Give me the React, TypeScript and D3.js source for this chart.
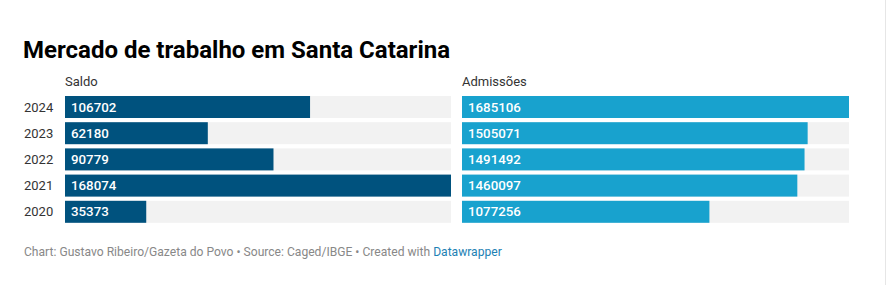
import React from "react";
import * as d3 from "d3";

const years = ["2024", "2023", "2022", "2021", "2020"];
const saldo = [106702, 62180, 90779, 168074, 35373];
const admissoes = [1685106, 1505071, 1491492, 1460097, 1077256];
const columnTitles = ["Saldo", "Admissões"];
const title = "Mercado de trabalho em Santa Catarina";

const W = 887;
const H = 285;
const FONT = "Roboto, 'Noto Sans', sans-serif";

export default function App() {
  const y = d3.scaleBand<string>().domain(years).range([96, 227]).paddingInner(0.16);
  const bh = 22;
  const rowY = (yr: string) => 96 + years.indexOf(yr) * 26.2;

  const panels = [
    { title: columnTitles[0], values: saldo, x0: 65, x1: 451, color: "#00527e" },
    { title: columnTitles[1], values: admissoes, x0: 462, x1: 849, color: "#18a2ce" },
  ];

  return (
    <svg
      width={W}
      height={H}
      style={{ position: "absolute", left: 0, top: 0, background: "#fff" }}
      fontFamily={FONT}
    >
      <rect x={0} y={0} width={W} height={H} fill="#fff" />
      <line x1={885.5} x2={885.5} y1={0} y2={H} stroke="#e6e6e6" strokeWidth={1} />
      <text x={23} y={57.5} fontSize={24} fontWeight={700} fill="#000">
        {title}
      </text>
      {years.map((yr) => (
        <text key={yr} x={24} y={rowY(yr) + bh / 2 + 4.5} fontSize={13} fill="#333">
          {yr}
        </text>
      ))}
      {panels.map((p) => {
        const max = d3.max(p.values) as number;
        const x = d3.scaleLinear().domain([0, max]).range([p.x0, p.x1]);
        return (
          <g key={p.title}>
            <text x={p.x0} y={86} fontSize={13} fill="#333">
              {p.title}
            </text>
            {years.map((yr, i) => {
              const top = rowY(yr);
              return (
                <g key={yr}>
                  <rect x={p.x0} y={top} width={p.x1 - p.x0} height={bh} fill="#f2f2f2" />
                  <rect x={p.x0} y={top} width={x(p.values[i]) - p.x0} height={bh} fill={p.color} />
                  <text
                    x={p.x0 + 6}
                    y={top + bh / 2 + 4.5}
                    fontSize={13.3}
                    fontWeight={500}
                    fill="#fff"
                  >
                    {p.values[i]}
                  </text>
                </g>
              );
            })}
          </g>
        );
      })}
      <text x={24} y={256} fontSize={12.1} fill="#888">
        Chart: Gustavo Ribeiro/Gazeta do Povo • Source: Caged/IBGE • Created with{" "}
        <tspan fill="#1d81b4">Datawrapper</tspan>
      </text>
    </svg>
  );
}
